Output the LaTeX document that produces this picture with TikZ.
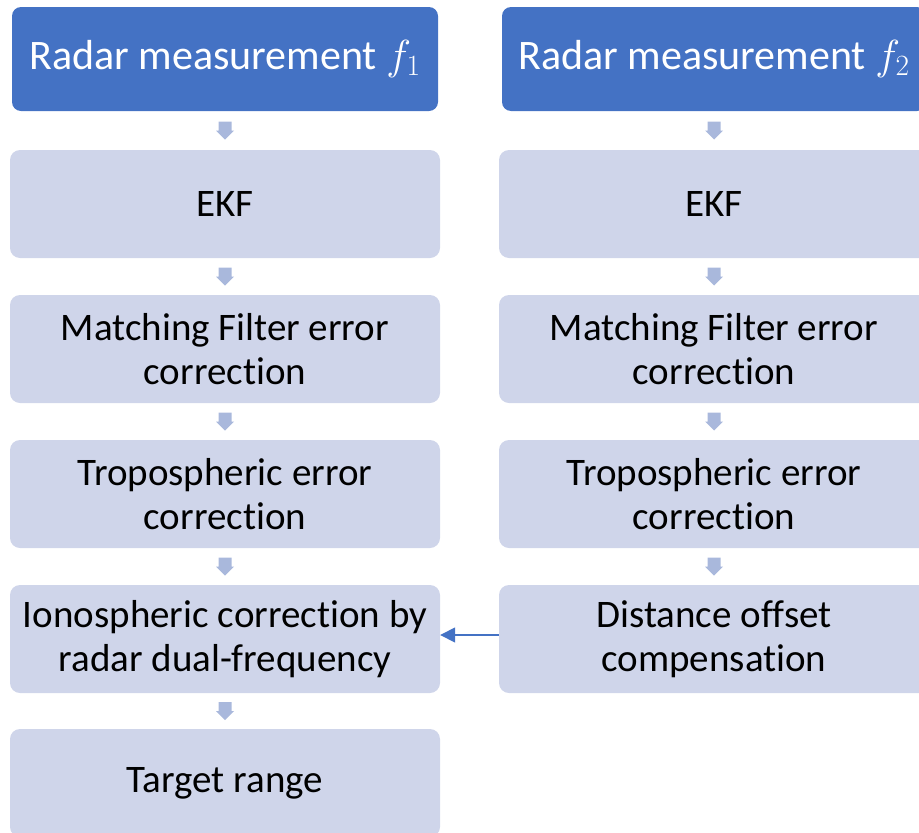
\RequirePackage{fix-cm}
\documentclass[tikz,border=0pt]{standalone}
\usepackage{fontspec}
\setmainfont{Carlito}[Ligatures=NoCommon]
\usetikzlibrary{arrows.meta,calc}
\definecolor{topblue}{HTML}{4472C4}
\definecolor{lightbox}{HTML}{CFD5EA}
\definecolor{arrowc}{HTML}{A9B8DC}
\tikzset{
  topbox/.style={fill=topblue, rounded corners=9pt, minimum height=104pt, text=white,
     font=\fontsize{42}{50}\selectfont, inner sep=0pt},
  stepbox/.style={fill=lightbox, rounded corners=10pt, minimum width=430pt, minimum height=108pt,
     text=black, font=\fontsize{39}{44}\selectfont, align=center, inner sep=0pt},
  link/.style={draw=topblue, line width=1.6pt, -{Triangle[length=15pt,width=15pt]}}
}
\newcommand{\blockarrow}[2]{%
  \begin{scope}[shift={($(#1.south)!0.5!(#2.north)$)}]
    \fill[arrowc] (-6.5,-9) -- (6.5,-9) -- (6.5,0) -- (9,0) -- (0,9) -- (-9,0) -- (-6.5,0) -- cycle;
  \end{scope}}
\begin{document}
\begin{tikzpicture}[x=1pt,y=-1pt]
\useasboundingbox (0,0) rectangle (919,833);
% left column
\node[topbox, minimum width=426pt] (l0) at (225,59) {Radar measurement $f_1$};
\node[stepbox] (l1) at (225,204) {EKF};
\node[stepbox] (l2) at (225,349) {Matching Filter error\\correction};
\node[stepbox] (l3) at (225,494) {Tropospheric error\\correction};
\node[stepbox] (l4) at (225,639) {Ionospheric correction by\\radar dual-frequency};
\node[stepbox] (l5) at (225,783) {Target range};
% right column
\node[topbox, minimum width=424pt] (r0) at (714,59) {Radar measurement $f_2$};
\node[stepbox] (r1) at (714,204) {EKF};
\node[stepbox] (r2) at (714,349) {Matching Filter error\\correction};
\node[stepbox] (r3) at (714,494) {Tropospheric error\\correction};
\node[stepbox] (r4) at (714,639) {Distance offset\\compensation};
% block arrows
\blockarrow{l0}{l1}
\blockarrow{l1}{l2}
\blockarrow{l2}{l3}
\blockarrow{l3}{l4}
\blockarrow{l4}{l5}
\blockarrow{r0}{r1}
\blockarrow{r1}{r2}
\blockarrow{r2}{r3}
\blockarrow{r3}{r4}
% link
\draw[link] ([yshift=4pt]r4.west) -- ([yshift=4pt]l4.east);
\end{tikzpicture}
\end{document}
